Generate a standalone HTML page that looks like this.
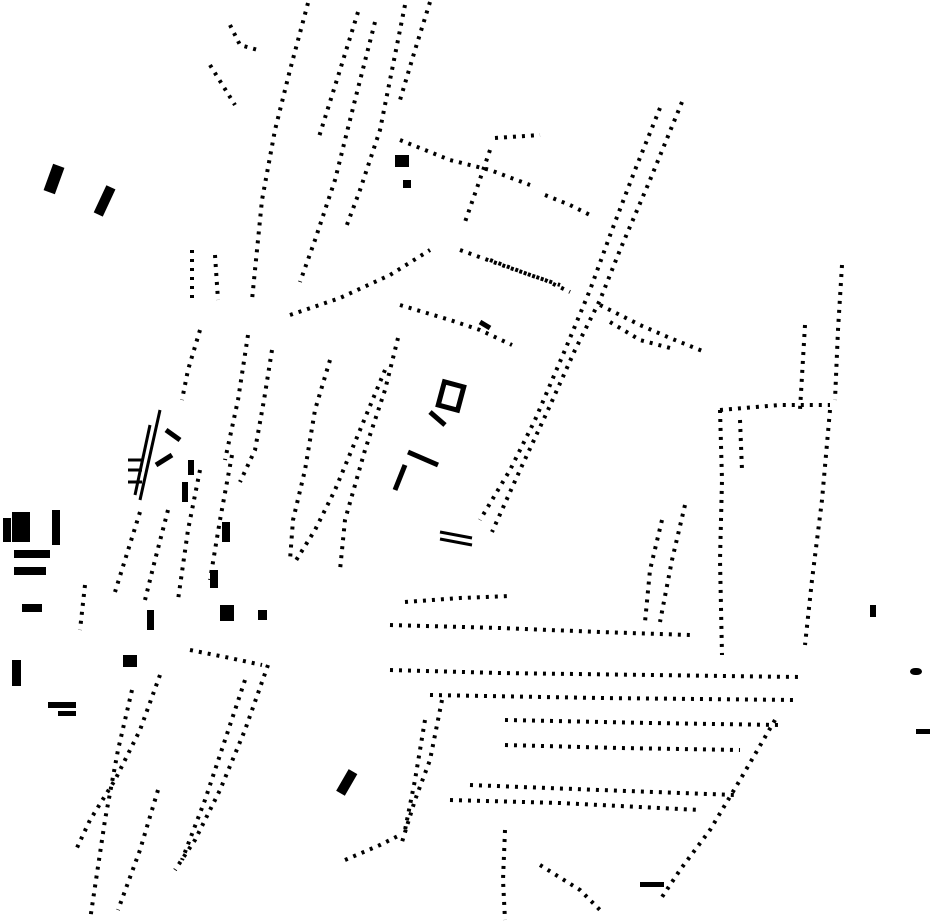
<!DOCTYPE html>
<html><head><meta charset="utf-8"><style>
html,body{margin:0;padding:0;background:#fff;}
svg{display:block}
</style></head><body>
<svg width="930" height="924" viewBox="0 0 930 924" xmlns="http://www.w3.org/2000/svg">
<g fill="none" stroke="#000" stroke-width="4" stroke-dasharray="3 6">
<polyline points="308,3 290,70 275,130 262,200 252,300"/>
<polyline points="358,12 340,70 318,140"/>
<polyline points="375,22 355,100 335,180 315,240 300,282"/>
<polyline points="405,5 392,70 380,130 360,190 345,230"/>
<polyline points="430,2 415,50 400,100"/>
<polyline points="230,25 240,45 258,50"/>
<polyline points="210,65 235,105"/>
<polyline points="400,140 450,160 490,170 530,185"/>
<polyline points="495,138 540,135"/>
<polyline points="490,150 478,185 465,222"/>
<polyline points="545,195 570,205 590,215"/>
<polyline points="682,102 650,180 620,250 600,300 575,350 548,410 520,470 492,532"/>
<polyline points="660,108 635,170 612,230 590,290 565,350 535,420 510,470 480,520"/>
<polyline points="600,305 640,325 670,338 705,352"/>
<polyline points="610,322 640,340 670,348"/>
<polyline points="460,250 510,268 545,280 570,292"/>
<polyline points="490,260 530,275 560,285"/>
<polyline points="290,315 340,298 390,275 430,250"/>
<polyline points="400,305 450,320 480,330 512,345"/>
<polyline points="398,338 385,390 365,450 345,520 340,570"/>
<polyline points="330,360 315,410 305,470 293,520 290,560"/>
<polyline points="385,370 360,430 335,490 315,530 295,562"/>
<polyline points="272,350 264,400 255,450 240,482"/>
<polyline points="248,335 238,400 225,460"/>
<polyline points="200,330 188,370 182,400"/>
<polyline points="192,250 192,300"/>
<polyline points="215,255 218,300"/>
<polyline points="140,512 125,560 115,592"/>
<polyline points="168,510 155,560 145,600"/>
<polyline points="200,470 188,530 178,600"/>
<polyline points="232,455 220,520 210,580"/>
<polyline points="85,585 80,630"/>
<polyline points="720,410 722,480 720,560 722,655"/>
<polyline points="740,420 742,470"/>
<polyline points="720,410 780,405 830,405"/>
<polyline points="830,410 822,500 812,580 805,645"/>
<polyline points="842,265 838,330 835,400"/>
<polyline points="805,325 800,410"/>
<polyline points="685,505 672,560 660,622"/>
<polyline points="662,520 650,570 645,622"/>
<polyline points="405,602 460,598 510,596"/>
<polyline points="390,625 500,628 600,632 690,635"/>
<polyline points="390,670 500,673 650,675 800,677"/>
<polyline points="430,695 600,698 795,700"/>
<polyline points="505,720 650,723 780,725"/>
<polyline points="505,745 620,748 740,750"/>
<polyline points="470,785 600,790 735,795"/>
<polyline points="450,800 560,803 700,810"/>
<polyline points="442,700 430,760 415,800 402,842"/>
<polyline points="425,720 415,780 405,830"/>
<polyline points="775,720 740,780 710,830 680,870 660,900"/>
<polyline points="268,665 245,730 220,790 195,840 175,870"/>
<polyline points="245,680 225,740 205,800 182,860"/>
<polyline points="160,675 140,730 115,780 90,820 75,852"/>
<polyline points="132,690 118,750 105,820 90,920"/>
<polyline points="158,790 140,850 118,910"/>
<polyline points="190,650 230,658 262,665"/>
<polyline points="345,860 380,845 400,835"/>
<polyline points="505,830 503,880 505,920"/>
<polyline points="540,865 580,890 600,910"/>
</g>
<g fill="#000">
<rect x="48" y="165" width="12" height="28" transform="rotate(20 54 179)"/>
<rect x="100" y="186" width="10" height="30" transform="rotate(25 105 200)"/>
<rect x="12" y="512" width="18" height="30"/>
<rect x="3" y="518" width="8" height="24"/>
<rect x="52" y="510" width="8" height="35"/>
<rect x="14" y="550" width="36" height="8"/>
<rect x="14" y="567" width="32" height="8"/>
<rect x="22" y="604" width="20" height="8"/>
<rect x="12" y="660" width="9" height="26"/>
<rect x="48" y="702" width="28" height="6"/>
<rect x="58" y="711" width="18" height="5"/>
<rect x="123" y="655" width="14" height="12"/>
<rect x="220" y="605" width="14" height="16"/>
<rect x="258" y="610" width="9" height="10"/>
<rect x="210" y="570" width="8" height="18"/>
<rect x="222" y="522" width="8" height="20"/>
<rect x="147" y="610" width="7" height="20"/>
<rect x="182" y="482" width="6" height="20"/>
<rect x="188" y="460" width="6" height="15"/>
<rect x="395" y="155" width="14" height="12"/>
<rect x="403" y="180" width="8" height="8"/>
<rect x="910" y="668" width="12" height="7" rx="5"/>
<rect x="870" y="605" width="6" height="12"/>
<rect x="916" y="729" width="14" height="5"/>
<rect x="640" y="882" width="24" height="5"/>
<rect x="342" y="770" width="10" height="25" transform="rotate(30 347 782)"/>
</g>
<g stroke="#000" fill="none">
<rect x="441" y="384" width="20" height="24" stroke-width="5" transform="rotate(15 451 396)"/>
<line x1="430" y1="412" x2="445" y2="425" stroke-width="5"/>
<line x1="408" y1="452" x2="438" y2="465" stroke-width="5"/>
<line x1="405" y1="465" x2="395" y2="490" stroke-width="5"/>
<line x1="440" y1="532" x2="472" y2="538" stroke-width="3"/>
<line x1="440" y1="539" x2="472" y2="545" stroke-width="3"/>
<line x1="160" y1="410" x2="140" y2="500" stroke-width="3"/>
<line x1="150" y1="425" x2="135" y2="495" stroke-width="3"/>
<line x1="166" y1="430" x2="180" y2="440" stroke-width="5"/>
<line x1="156" y1="465" x2="172" y2="455" stroke-width="5"/>
<line x1="128" y1="460" x2="142" y2="460" stroke-width="3"/>
<line x1="128" y1="470" x2="142" y2="470" stroke-width="3"/>
<line x1="128" y1="482" x2="142" y2="482" stroke-width="3"/>
<line x1="480" y1="322" x2="490" y2="328" stroke-width="5"/>
</g>
</svg>
</body></html>
